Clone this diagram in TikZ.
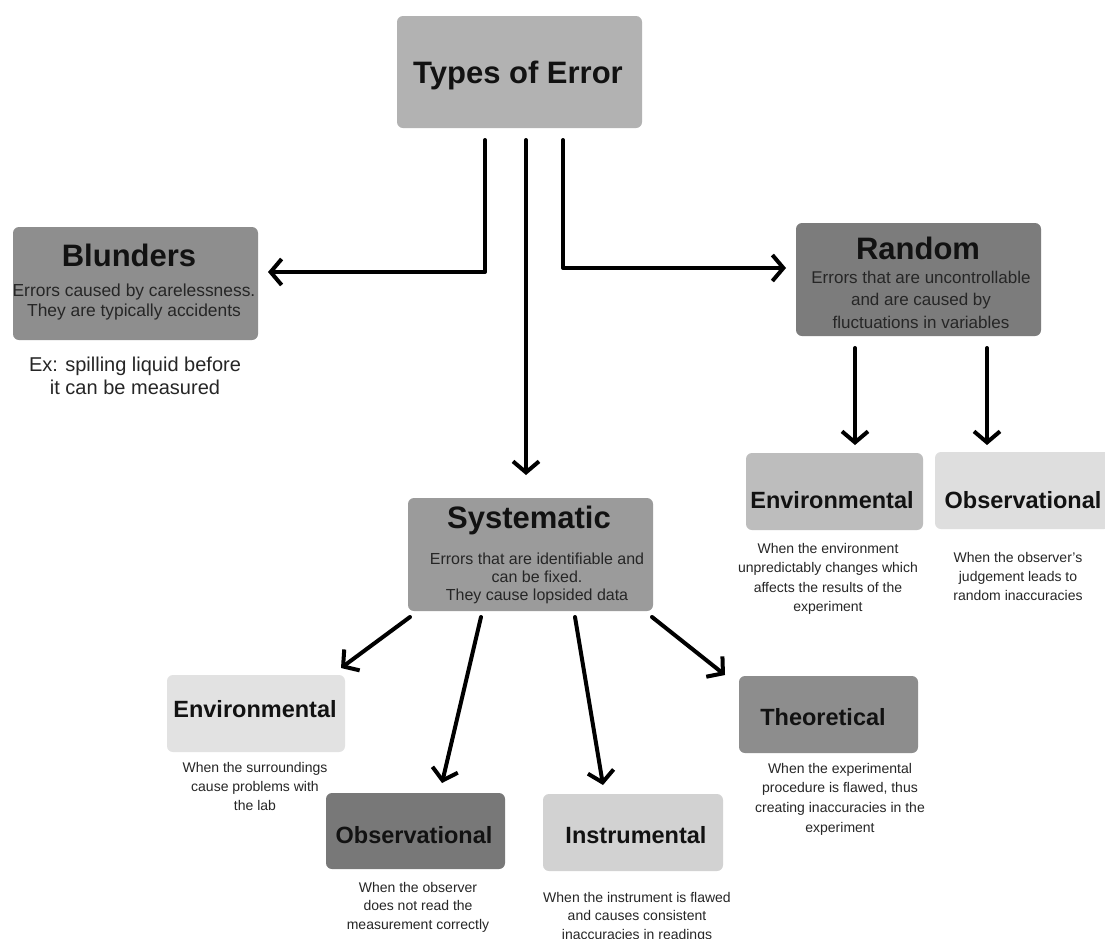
\documentclass[tikz,border=0pt]{standalone}
\usepackage{fontspec}
\setmainfont{Liberation Sans}
\usetikzlibrary{arrows.meta}
\definecolor{cTypes}{HTML}{B2B2B2}
\definecolor{cBlun}{HTML}{8E8E8E}
\definecolor{cRand}{HTML}{7C7C7C}
\definecolor{cSys}{HTML}{9B9B9B}
\definecolor{cREnv}{HTML}{BDBDBD}
\definecolor{cRObs}{HTML}{DEDEDE}
\definecolor{cLEnv}{HTML}{E2E2E2}
\definecolor{cSObs}{HTML}{787878}
\definecolor{cInst}{HTML}{D2D2D2}
\definecolor{cTheo}{HTML}{8D8D8D}
\definecolor{ink}{HTML}{121212}
\definecolor{subink}{HTML}{262626}
\begin{document}
\begin{tikzpicture}[x=1pt,y=-1pt,
  box/.style={rounded corners=6pt, draw=none, inner sep=0pt, outer sep=0pt},
  bigttl/.style={anchor=base, inner sep=0pt, text=ink, font=\fontsize{31}{31}\selectfont\bfseries},
  smttl/.style={anchor=base, inner sep=0pt, text=ink, font=\fontsize{23.5}{23.5}\selectfont\bfseries},
  desc/.style={anchor=base, inner sep=0pt, align=center, text=subink},
  arr/.style={line width=4pt, line cap=round, line join=round, draw=black,
    -{Straight Barb[length=11pt,width=26pt,line width=4pt]}}
]
\useasboundingbox[fill=white] (0,0) rectangle (1105,938);

% boxes
\node[box, fill=cTypes, minimum width=245pt, minimum height=112pt] (types) at (519.5,72) {};
\node[box, fill=cBlun, minimum width=245pt, minimum height=113pt] (blunders) at (135.5,283.5) {};
\node[box, fill=cRand, minimum width=245pt, minimum height=113pt] (random) at (918.5,279.5) {};
\node[box, fill=cSys, minimum width=245pt, minimum height=113pt] (systematic) at (530.5,554.5) {};
\node[box, fill=cREnv, minimum width=177pt, minimum height=77pt] (renv) at (834.5,491.5) {};
\node[box, fill=cRObs, minimum width=175pt, minimum height=77pt] (robs) at (1022.5,490.5) {};
\node[box, fill=cLEnv, minimum width=178pt, minimum height=77pt] (lenv) at (256,713.5) {};
\node[box, fill=cSObs, minimum width=179pt, minimum height=76pt] (sobs) at (415.5,831) {};
\node[box, fill=cInst, minimum width=180pt, minimum height=77pt] (inst) at (633,832.5) {};
\node[box, fill=cTheo, minimum width=179pt, minimum height=77pt] (theo) at (828.5,714.5) {};

% titles
\node[bigttl] (typesT) at (518,83) {Types of Error};
\node[bigttl] (blundersT) at (129,266) {Blunders};
\node[bigttl] (randomT) at (918,259) {Random};
\node[bigttl] (systematicT) at (529,528) {Systematic};
\node[smttl] (renvT) at (832,508) {Environmental};
\node[smttl] (robsT) at (1023,508) {Observational};
\node[smttl] (lenvT) at (255,717) {Environmental};
\node[smttl] (sobsT) at (414,843) {Observational};
\node[smttl] (instT) at (636,843) {Instrumental};
\node[smttl] (theoT) at (823,725) {Theoretical};

% subtitles inside boxes (positioned by the baseline of the last line)
\node[desc, font=\fontsize{17.4}{20}\selectfont] (blundersS) at (134,316)
  {Errors caused by carelessness.\\They are typically accidents};
\node[desc, font=\fontsize{17}{22.5}\selectfont] (randomS) at (921,328)
  {Errors that are uncontrollable\\and are caused by\\fluctuations in variables};
\node[desc, font=\fontsize{16}{18}\selectfont] (systematicS) at (537,600)
  {Errors that are identifiable and\\can be fixed.\\They cause lopsided data};

% descriptions (positioned by the baseline of the last line)
\node[desc, font=\fontsize{20}{23}\selectfont] (blundersD) at (135,394)
  {Ex: spilling liquid before\\it can be measured};
\node[desc, font=\fontsize{14}{19.5}\selectfont] (renvD) at (828,611.5)
  {When the environment\\unpredictably changes which\\affects the results of the\\experiment};
\node[desc, font=\fontsize{14}{19}\selectfont] (robsD) at (1018,600)
  {When the observer's\\judgement leads to\\random inaccuracies};
\node[desc, font=\fontsize{14}{19}\selectfont] (lenvD) at (255,810)
  {When the surroundings\\cause problems with\\the lab};
\node[desc, font=\fontsize{14}{18.5}\selectfont] (sobsD) at (418,929)
  {When the observer\\does not read the\\measurement correctly};
\node[desc, font=\fontsize{14}{18.5}\selectfont] (instD) at (637,939)
  {When the instrument is flawed\\and causes consistent\\inaccuracies in readings};
\node[desc, font=\fontsize{14}{19.8}\selectfont] (theoD) at (840,832.4)
  {When the experimental\\procedure is flawed, thus\\creating inaccuracies in the\\experiment};

% connectors
\draw[arr] ([xshift=-34.5pt,yshift=-12pt]types.south) |- ([xshift=10pt,yshift=11.5pt]blunders.east);
\draw[arr] ([xshift=6.5pt,yshift=-12pt]types.south) -- ([xshift=-4.5pt,yshift=23pt]systematic.north);
\draw[arr] ([xshift=43.5pt,yshift=-12pt]types.south) |- ([xshift=-10pt,yshift=11.5pt]random.west);
\draw[arr] ([xshift=-63.5pt,yshift=-12pt]random.south) -- ([xshift=20.5pt,yshift=8pt]renv.north);
\draw[arr] ([xshift=68.5pt,yshift=-12pt]random.south) -- ([xshift=-35.5pt,yshift=7pt]robs.north);
\draw[arr] ([xshift=-120.5pt,yshift=-6pt]systematic.south) -- ([xshift=-4pt,yshift=7pt]lenv.north east);
\draw[arr] ([xshift=-49.5pt,yshift=-6pt]systematic.south) -- ([xshift=26.5pt,yshift=10pt]sobs.north);
\draw[arr] ([xshift=44.5pt,yshift=-6pt]systematic.south) -- ([xshift=-30pt,yshift=9pt]inst.north);
\draw[arr] ([xshift=121.5pt,yshift=-6pt]systematic.south) -- ([xshift=-14pt,yshift=1pt]theo.north west);
\end{tikzpicture}
\end{document}
